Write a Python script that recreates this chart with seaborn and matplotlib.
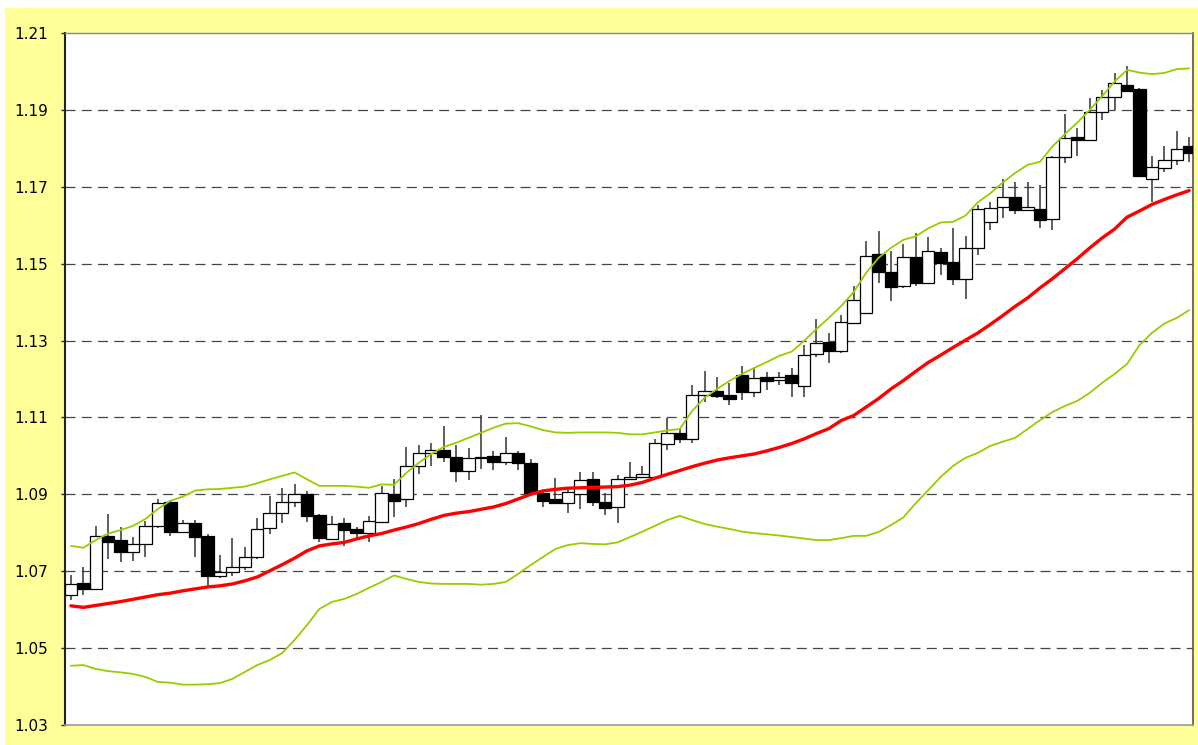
import numpy as np
import pandas as pd
import matplotlib
matplotlib.use("Agg")
import matplotlib.pyplot as plt
from matplotlib.patches import Rectangle
import seaborn as sns

opens = [1.0637, 1.0670, 1.0655, 1.0791, 1.0781, 1.0751, 1.0771, 1.0818, 1.0879, 1.0801,
         1.0825, 1.0792, 1.0687, 1.0697, 1.0711, 1.0738, 1.0812, 1.0852, 1.0879, 1.0902,
         1.0846, 1.0785, 1.0826, 1.0809, 1.0800, 1.0829, 1.0901, 1.0887, 1.0974, 1.1007,
         1.1015, 1.0996, 1.0961, 1.0994, 1.1000, 1.0985, 1.1007, 1.0982, 1.0903, 1.0889,
         1.0878, 1.0900, 1.0939, 1.0879, 1.0866, 1.0939, 1.0944, 1.0946, 1.1031, 1.1059,
         1.1043, 1.1158, 1.1169, 1.1158, 1.1210, 1.1165, 1.1206, 1.1197, 1.1210, 1.1183,
         1.1264, 1.1296, 1.1274, 1.1346, 1.1372, 1.1524, 1.1479, 1.1443, 1.1517, 1.1449,
         1.1531, 1.1505, 1.1460, 1.1542, 1.1608, 1.1648, 1.1674, 1.1640, 1.1643, 1.1617,
         1.1777, 1.1830, 1.1822, 1.1895, 1.1934, 1.1965, 1.1954, 1.1720, 1.1748, 1.1770,
         1.1806]
closes = [1.0667, 1.0655, 1.0792, 1.0777, 1.0751, 1.0771, 1.0818, 1.0878, 1.0801, 1.0825,
          1.0788, 1.0688, 1.0697, 1.0711, 1.0738, 1.0809, 1.0852, 1.0879, 1.0902, 1.0844,
          1.0787, 1.0823, 1.0807, 1.0800, 1.0831, 1.0903, 1.0883, 1.0974, 1.1007, 1.1015,
          1.0998, 1.0961, 1.0994, 1.0998, 1.0985, 1.1008, 1.0982, 1.0904, 1.0883, 1.0878,
          1.0907, 1.0937, 1.0879, 1.0864, 1.0940, 1.0946, 1.0953, 1.1033, 1.1059, 1.1044,
          1.1158, 1.1170, 1.1157, 1.1147, 1.1167, 1.1203, 1.1196, 1.1205, 1.1189, 1.1262,
          1.1294, 1.1274, 1.1347, 1.1405, 1.1521, 1.1478, 1.1440, 1.1517, 1.1450, 1.1533,
          1.1502, 1.1460, 1.1540, 1.1641, 1.1646, 1.1674, 1.1640, 1.1648, 1.1614, 1.1777,
          1.1828, 1.1822, 1.1895, 1.1934, 1.1969, 1.1950, 1.1729, 1.1751, 1.1770, 1.1797,
          1.1787]
highs = [1.0690, 1.0710, 1.0818, 1.0849, 1.0814, 1.0788, 1.0831, 1.0889, 1.0885, 1.0833,
         1.0833, 1.0797, 1.0742, 1.0786, 1.0764, 1.0838, 1.0896, 1.0917, 1.0927, 1.0909,
         1.0848, 1.0844, 1.0839, 1.0815, 1.0844, 1.0922, 1.0939, 1.1024, 1.1028, 1.1033,
         1.1078, 1.1028, 1.1020, 1.1106, 1.1013, 1.1050, 1.1012, 1.0991, 1.0906, 1.0942,
         1.0916, 1.0959, 1.0959, 1.0903, 1.0950, 1.0983, 1.0975, 1.1044, 1.1098, 1.1072,
         1.1184, 1.1222, 1.1206, 1.1189, 1.1234, 1.1228, 1.1219, 1.1219, 1.1228, 1.1288,
         1.1356, 1.1319, 1.1367, 1.1442, 1.1560, 1.1586, 1.1534, 1.1551, 1.1581, 1.1569,
         1.1540, 1.1592, 1.1572, 1.1653, 1.1661, 1.1720, 1.1713, 1.1713, 1.1705, 1.1779,
         1.1889, 1.1852, 1.1930, 1.1952, 1.1997, 1.2014, 1.1956, 1.1780, 1.1807, 1.1846,
         1.1830]
lows = [1.0625, 1.0638, 1.0653, 1.0731, 1.0725, 1.0727, 1.0736, 1.0812, 1.0792, 1.0799,
        1.0738, 1.0662, 1.0683, 1.0687, 1.0703, 1.0733, 1.0796, 1.0826, 1.0866, 1.0827,
        1.0777, 1.0781, 1.0766, 1.0785, 1.0777, 1.0827, 1.0840, 1.0866, 1.0953, 1.0974,
        1.0985, 1.0933, 1.0937, 1.0966, 1.0963, 1.0976, 1.0963, 1.0900, 1.0866, 1.0876,
        1.0852, 1.0861, 1.0870, 1.0846, 1.0826, 1.0937, 1.0942, 1.0944, 1.1015, 1.1033,
        1.1033, 1.1141, 1.1150, 1.1132, 1.1145, 1.1152, 1.1171, 1.1184, 1.1154, 1.1152,
        1.1258, 1.1241, 1.1267, 1.1344, 1.1368, 1.1449, 1.1404, 1.1436, 1.1442, 1.1447,
        1.1470, 1.1444, 1.1407, 1.1523, 1.1588, 1.1620, 1.1630, 1.1638, 1.1594, 1.1588,
        1.1761, 1.1780, 1.1820, 1.1874, 1.1900, 1.1948, 1.1727, 1.1661, 1.1739, 1.1757,
        1.1765]
moving_avg = [1.0610, 1.0606, 1.0611, 1.0616, 1.0621, 1.0627, 1.0633, 1.0639, 1.0643, 1.0649,
              1.0654, 1.0659, 1.0662, 1.0667, 1.0675, 1.0685, 1.0701, 1.0717, 1.0734, 1.0753,
              1.0766, 1.0771, 1.0775, 1.0784, 1.0792, 1.0798, 1.0807, 1.0815, 1.0824, 1.0835,
              1.0845, 1.0851, 1.0855, 1.0861, 1.0867, 1.0876, 1.0888, 1.0900, 1.0909, 1.0913,
              1.0916, 1.0917, 1.0918, 1.0919, 1.0920, 1.0924, 1.0931, 1.0942, 1.0952, 1.0962,
              1.0972, 1.0981, 1.0989, 1.0995, 1.1000, 1.1005, 1.1013, 1.1022, 1.1032, 1.1044,
              1.1058, 1.1071, 1.1092, 1.1105, 1.1127, 1.1149, 1.1174, 1.1196, 1.1220, 1.1243,
              1.1262, 1.1282, 1.1301, 1.1320, 1.1342, 1.1365, 1.1389, 1.1411, 1.1437, 1.1461,
              1.1487, 1.1513, 1.1541, 1.1567, 1.1590, 1.1621, 1.1637, 1.1654, 1.1667, 1.1679,
              1.1690]
upper_band = [1.0766, 1.0761, 1.0781, 1.0798, 1.0807, 1.0818, 1.0836, 1.0862, 1.0883, 1.0894,
              1.0910, 1.0913, 1.0914, 1.0917, 1.0920, 1.0929, 1.0939, 1.0948, 1.0957, 1.0939,
              1.0922, 1.0922, 1.0922, 1.0920, 1.0917, 1.0926, 1.0925, 1.0956, 1.0982, 1.1005,
              1.1023, 1.1034, 1.1047, 1.1060, 1.1073, 1.1084, 1.1085, 1.1077, 1.1067, 1.1061,
              1.1060, 1.1061, 1.1061, 1.1061, 1.1060, 1.1056, 1.1056, 1.1061, 1.1066, 1.1070,
              1.1117, 1.1151, 1.1174, 1.1195, 1.1213, 1.1229, 1.1244, 1.1260, 1.1271, 1.1299,
              1.1330, 1.1359, 1.1390, 1.1426, 1.1476, 1.1515, 1.1541, 1.1562, 1.1571, 1.1592,
              1.1607, 1.1609, 1.1625, 1.1660, 1.1683, 1.1711, 1.1736, 1.1757, 1.1765, 1.1805,
              1.1837, 1.1867, 1.1900, 1.1936, 1.1974, 1.2004, 1.1997, 1.1993, 1.1996, 1.2006,
              1.2008]
lower_band = [1.0454, 1.0456, 1.0446, 1.0440, 1.0437, 1.0433, 1.0425, 1.0412, 1.0410, 1.0405,
              1.0405, 1.0406, 1.0409, 1.0420, 1.0438, 1.0456, 1.0469, 1.0487, 1.0521, 1.0560,
              1.0602, 1.0620, 1.0628, 1.0641, 1.0657, 1.0672, 1.0689, 1.0680, 1.0672, 1.0668,
              1.0667, 1.0667, 1.0667, 1.0665, 1.0667, 1.0672, 1.0693, 1.0716, 1.0737, 1.0758,
              1.0768, 1.0773, 1.0771, 1.0770, 1.0775, 1.0789, 1.0803, 1.0818, 1.0833, 1.0844,
              1.0833, 1.0823, 1.0816, 1.0810, 1.0803, 1.0799, 1.0796, 1.0793, 1.0789, 1.0785,
              1.0781, 1.0781, 1.0786, 1.0792, 1.0792, 1.0802, 1.0820, 1.0840, 1.0877, 1.0911,
              1.0945, 1.0974, 1.0995, 1.1008, 1.1026, 1.1037, 1.1047, 1.1070, 1.1093, 1.1114,
              1.1130, 1.1143, 1.1164, 1.1190, 1.1213, 1.1239, 1.1288, 1.1320, 1.1344, 1.1359,
              1.1379]
y_ticks = [1.03, 1.05, 1.07, 1.09, 1.11, 1.13, 1.15, 1.17, 1.19, 1.21]

df = pd.DataFrame({"o": opens, "h": highs, "l": lows, "c": closes,
                   "ma": moving_avg, "up": upper_band, "lo": lower_band})
df["idx"] = np.arange(len(df))

sns.set_theme(style="white")
plt.rcParams["font.family"] = ["DejaVu Sans"]

W, H = 1198, 745
fig = plt.figure(figsize=(W / 100, H / 100), dpi=100)
fig.patch.set_facecolor("white")
fig.add_artist(Rectangle((5 / W, 0), 1 - 5 / W, (H - 8) / H, transform=fig.transFigure,
                         facecolor="#FFFF99", edgecolor="none", zorder=0))

ax = fig.add_axes([64.7 / W, 1 - 725 / H, (1193.5 - 64.7) / W, (725 - 33) / H])
ax.set_facecolor("white")

# wicks
ax.vlines(df["idx"], df["l"], df["h"], color="#333333", linewidth=1.1, zorder=2)
# bodies
up = df["c"] >= df["o"]
bottoms = np.minimum(df["o"], df["c"])
heights = np.maximum(np.abs(df["c"] - df["o"]), 0.00012)
ax.bar(df["idx"][up], heights[up], bottom=bottoms[up], width=1.0,
       facecolor="white", edgecolor="black", linewidth=0.9, zorder=3)
ax.bar(df["idx"][~up], heights[~up], bottom=bottoms[~up], width=1.0,
       facecolor="black", edgecolor="black", linewidth=0.9, zorder=3)

# bands and moving average
sns.lineplot(data=df, x="idx", y="up", ax=ax, color="#99CC00", linewidth=1.3, zorder=4)
sns.lineplot(data=df, x="idx", y="lo", ax=ax, color="#99CC00", linewidth=1.3, zorder=4)
sns.lineplot(data=df, x="idx", y="ma", ax=ax, color="#FF0000", linewidth=2.4, zorder=5)

ax.set_xlim(-0.5, 90.35)
ax.set_ylim(1.03, 1.21)
ax.set_yticks(y_ticks)
ax.set_yticklabels([f"{t:.2f}" for t in y_ticks], fontsize=11, color="black")
ax.set_xticks([])
ax.set_xlabel("")
ax.set_ylabel("")
for t in y_ticks[1:-1]:
    ax.axhline(t, color="#444444", linewidth=0.9, linestyle=(0, (8, 5)), zorder=1)

ax.tick_params(axis="y", which="both", left=True, length=3, width=1, color="#222222", pad=9)
for side, col, lw in [("left", "#222222", 1.5), ("bottom", "#999999", 1.2),
                      ("top", "#888888", 1.0), ("right", "#555555", 1.2)]:
    ax.spines[side].set_visible(True)
    ax.spines[side].set_color(col)
    ax.spines[side].set_linewidth(lw)

fig.savefig("out.png", dpi=100, facecolor=fig.get_facecolor())
